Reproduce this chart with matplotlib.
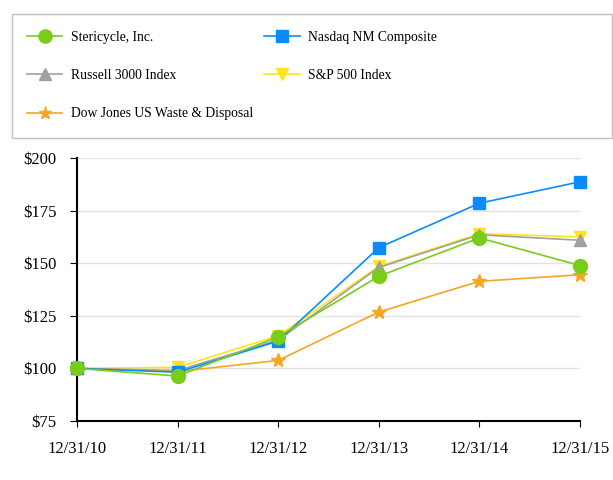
import matplotlib.pyplot as plt
from matplotlib.patches import Rectangle

dates = ["12/31/10", "12/31/11", "12/31/12", "12/31/13", "12/31/14", "12/31/15"]

stericycle = [100, 96.4, 115.0, 143.8, 162.0, 148.9]
nasdaq = [100, 98.2, 113.0, 157.4, 178.5, 188.7]
russell = [100, 99.0, 113.5, 148.0, 163.5, 160.9]
sp500 = [100, 100.5, 115.5, 148.5, 164.0, 162.5]
dow_waste = [100, 98.5, 103.8, 126.8, 141.4, 144.5]

y_ticks = [75, 100, 125, 150, 175, 200]

plt.rcParams['font.family'] = ['Liberation Serif', 'DejaVu Serif']

fig = plt.figure(figsize=(6.13, 4.8), dpi=100)
ax = fig.add_axes([77 / 613, 1 - 421 / 480, (580 - 77) / 613, (421 - 158) / 480])

x = list(range(len(dates)))

# order chosen so the 2-column legend fills like the original
series = [
    (stericycle, "Stericycle, Inc.", "#7ACC1B", "o", 10),
    (russell, "Russell 3000 Index", "#A0A0A0", "^", 9),
    (dow_waste, "Dow Jones US Waste & Disposal", "#F5A623", "*", 10),
    (nasdaq, "Nasdaq NM Composite", "#0A8CFF", "s", 9),
    (sp500, "S&P 500 Index", "#FFE31A", "v", 9),
]
# draw order: yellow/gray under, green on top
zorders = {"Stericycle, Inc.": 6, "Nasdaq NM Composite": 5, "Russell 3000 Index": 4,
           "S&P 500 Index": 3, "Dow Jones US Waste & Disposal": 4}
handles = []
for y, label, color, marker, ms in series:
    h, = ax.plot(x, y, color=color, marker=marker, markersize=ms, linewidth=1.2,
                 label=label, zorder=zorders[label], clip_on=False)
    handles.append(h)

ax.set_xlim(0, len(dates) - 1)
ax.set_ylim(75, 200)
ax.set_xticks(x)
ax.set_xticklabels(dates, fontsize=12)
ax.set_yticks(y_ticks)
ax.set_yticklabels(["$%d" % v for v in y_ticks], fontsize=12)
ax.tick_params(axis='x', pad=10, length=4.5, direction='out')
ax.tick_params(axis='y', pad=9.5, length=5, direction='out')

ax.grid(axis='y', color="#E3E3E3", linewidth=1)
ax.set_axisbelow(True)
ax.spines['top'].set_visible(False)
ax.spines['right'].set_visible(False)
ax.spines['left'].set_linewidth(1.5)
ax.spines['bottom'].set_linewidth(1.5)

# legend box spanning the full width, legend itself drawn without frame
fig.patches.append(Rectangle((12 / 613, 1 - 138 / 480), 600 / 613, 124 / 480,
                             transform=fig.transFigure, facecolor="white",
                             edgecolor="#C0C0C0", linewidth=1))
leg = fig.legend(handles=handles, loc='upper left', ncol=2,
                 bbox_to_anchor=(27 / 613, 1 - 31 / 480),
                 fontsize=9.8, frameon=False, borderpad=0, borderaxespad=0,
                 labelspacing=1.85, handlelength=2.6, handletextpad=0.6,
                 columnspacing=0.85, markerscale=0.95)

fig.savefig("out.png", dpi=100)
